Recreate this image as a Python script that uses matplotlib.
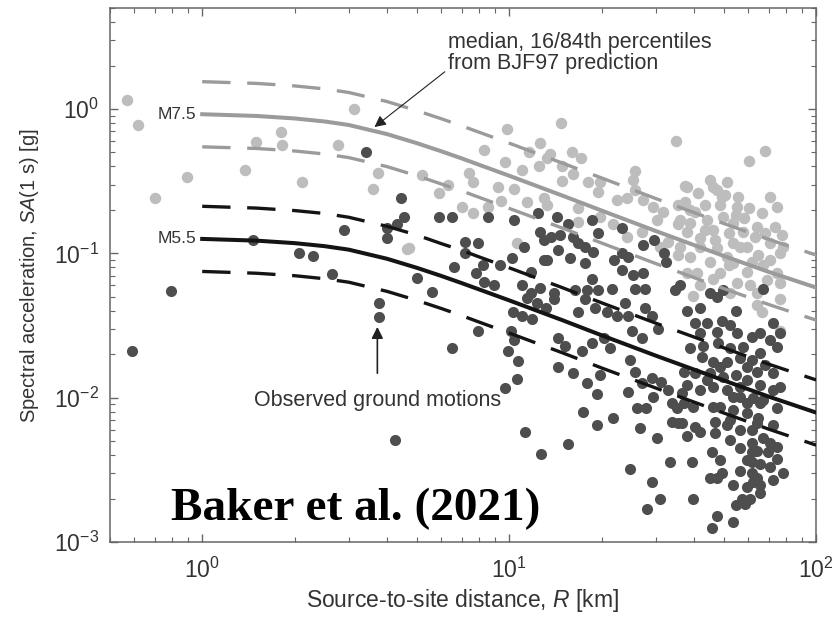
import matplotlib
matplotlib.use("Agg")
import matplotlib.pyplot as plt

plt.rcParams['font.family'] = ['Liberation Sans', 'DejaVu Sans']
plt.rcParams['mathtext.fontset'] = 'custom'
plt.rcParams['mathtext.rm'] = 'Liberation Sans'
plt.rcParams['mathtext.it'] = 'Liberation Sans:italic'

# BJF97 prediction curves
r_pred = [1, 1.5, 2, 2.5, 3, 4, 5, 6, 7, 8, 10, 15, 20, 30, 50, 70, 100]
m75_med = [0.92, 0.895, 0.86, 0.82, 0.775, 0.67, 0.58, 0.51, 0.455, 0.41, 0.345, 0.25, 0.198,
           0.143, 0.096, 0.0745, 0.058]
m75_p84 = [1.546, 1.504, 1.445, 1.378, 1.302, 1.126, 0.974, 0.857, 0.764, 0.689, 0.580, 0.420,
           0.333, 0.240, 0.161, 0.125, 0.0974]
m75_p16 = [0.547, 0.533, 0.512, 0.488, 0.461, 0.399, 0.345, 0.303, 0.271, 0.244, 0.205, 0.149,
           0.118, 0.0851, 0.0571, 0.0443, 0.0345]
m55_med = [0.126, 0.1226, 0.1178, 0.1123, 0.1062, 0.0918, 0.0795, 0.0699, 0.0623, 0.0562, 0.0473,
           0.0343, 0.0271, 0.0196, 0.0132, 0.0102, 0.0079]
m55_p84 = [0.212, 0.206, 0.198, 0.189, 0.178, 0.154, 0.134, 0.117, 0.105, 0.0944, 0.0795, 0.0576,
           0.0455, 0.0329, 0.0222, 0.0171, 0.0133]
m55_p16 = [0.075, 0.0729, 0.0701, 0.0668, 0.0632, 0.0546, 0.0473, 0.0416, 0.0371, 0.0334, 0.0281,
           0.0204, 0.0161, 0.0117, 0.00785, 0.00607, 0.0047]

# observed ground motions, large magnitude (light grey)
big_r = [0.57, 0.62, 0.70, 0.89, 1.38, 1.50, 1.80, 1.82, 2.12, 2.76, 3.13, 3.75, 3.6, 4.66,
         9.8, 12.6, 8.3, 9.7, 11, 12.5, 13.3, 11.6, 7.4, 7.6, 9.2, 10.4, 5.2, 5.9, 6.3,
         9.4, 11.4, 13, 7.0, 7.6, 8.5, 10.6, 4.7,
         14.8, 34.9, 13.6, 16, 17.1, 14.9, 16.1, 14.9, 18, 19.8, 19.4, 25.7, 25.3, 25.7,
         13.3, 16.7, 22.5, 24.2, 27.3, 29.5, 31.6, 35.5, 19.8, 21.8, 24.2, 16.7, 27.1,
         30.2, 35.5, 30.9, 32.8, 35.5,
         68.3, 60.3, 38, 45.2, 51.3, 41.2, 47.4, 55.7, 48.7, 70.6, 74.3, 66.8, 60.3, 37.4,
         40.3, 38.8, 44, 49.7, 53.7, 46, 51.8, 57.9, 63.2, 73.3, 77.5, 70.6, 76.5, 41.9,
         38, 41.9, 47.4, 59.7, 64.8, 38.8, 45.2, 53.7, 67.3, 59.7, 74.3, 48.7, 40.8, 41.9,
         55.1, 76.5, 64.3, 39.7, 52.5, 64.3, 66.8, 76.5, 76.5,
         46, 50.3, 55.1, 64.3, 68.3, 56.6, 51.3, 61.7, 46, 38, 68.9, 53.7, 43.3, 36, 36, 37.4,
         49.4, 43.3, 58.3, 46.8, 54.6, 51.8, 61, 38.8, 70.6, 78]
big_sa = [1.15, 0.77, 0.24, 0.34, 0.38, 0.59, 0.69, 0.56, 0.31, 0.56, 1.0, 0.36, 0.28, 0.107,
          0.73, 0.58, 0.52, 0.43, 0.38, 0.40, 0.46, 0.50, 0.36, 0.31, 0.29, 0.28, 0.35, 0.26, 0.30,
          0.23, 0.227, 0.24, 0.21, 0.19, 0.21, 0.118, 0.109,
          0.80, 0.60, 0.49, 0.50, 0.46, 0.40, 0.355, 0.317, 0.31, 0.31, 0.266, 0.37, 0.32, 0.275,
          0.216, 0.206, 0.234, 0.24, 0.234, 0.21, 0.193, 0.216, 0.18, 0.16, 0.13, 0.165, 0.14,
          0.17, 0.16, 0.11, 0.12, 0.097,
          0.51, 0.436, 0.288, 0.322, 0.31, 0.262, 0.275, 0.246, 0.216, 0.246, 0.21, 0.19, 0.206, 0.227,
          0.193, 0.162, 0.17, 0.178, 0.162, 0.145, 0.138, 0.14, 0.13, 0.152, 0.134, 0.118, 0.10, 0.128,
          0.14, 0.11, 0.109, 0.11, 0.097, 0.094, 0.087, 0.086, 0.083, 0.074, 0.073, 0.073, 0.073, 0.06,
          0.062, 0.062, 0.053, 0.051, 0.053, 0.044, 0.039, 0.029, 0.048,
          0.288, 0.254, 0.21, 0.152, 0.138, 0.11, 0.094, 0.087, 0.067, 0.073, 0.065, 0.118, 0.145,
          0.11, 0.17, 0.292,
          0.246, 0.216, 0.176, 0.123, 0.184, 0.083, 0.060, 0.20, 0.09, 0.11]

# observed ground motions, small magnitude (dark grey)
small_r = [3.42, 4.43, 4.53, 4.3, 4.0, 4.0, 2.9, 1.46, 2.07, 2.3, 2.65, 0.79, 3.78, 3.78, 0.59, 4.26, 6.5,
           5.9, 6.5, 8.5, 10.4, 12.4, 12.6, 13, 7.2, 7.9, 7.2, 11.2, 8.2, 9.3, 10.2, 6.6, 7.8, 8.3,
           8.9, 11.8, 11, 11.8, 12.6, 5.0, 5.6, 13,
           7.9, 10.1, 10.4, 9.9, 10.7, 10.6, 9.7, 11.3, 12.7, 10.3, 11, 11.9, 11.4, 12.3, 13.2,
           14.3, 15.5, 18.6, 23.3, 19.4, 13.7, 14.6, 16.1, 16.7, 14.4, 17.6, 18.7, 15.8, 17.6, 13.3,
           22, 24.4, 27.3, 29.7, 32.0, 32.4, 23.3, 25.3, 27.3, 18.6, 21.6, 25.7, 27.6, 17.9, 19.4,
           16.4, 34.7, 14, 23.3,
           14, 16.7, 17.6, 19.1, 20.8, 22.5, 23.8, 24.4, 27.6, 29.1, 30.5, 25.1, 27.1, 14.4, 15.2,
           17.2, 18.6, 21.3, 14.4, 16.1, 19.8, 17.9, 24.7, 25.7, 27.1, 29.1, 31.3, 19.3, 24.4, 29.3,
           32.8, 33.9, 26.1, 28, 17.4, 21.8, 19.3, 26.6, 30.2, 35.5, 33.9, 15.5, 33.3, 24.7, 29.1,
           30.9, 28.2, 20.4, 35.3,
           38, 41.9, 40.3, 44, 49.4, 52.5, 54.6, 65.8, 72.4, 76.5, 70.6, 74.3, 65.8, 38.8, 42.9, 48,
           52.5, 57.9, 42.5, 46, 51.3, 56.6, 61.7, 68.3, 72.4, 37, 40.3, 45.2, 49.7, 54.6, 59.7, 65.8,
           38, 41.9, 46, 51.3, 56.6, 62.2, 67.3, 74.3, 37, 39.7, 48.7, 53.7, 59.7, 64.8, 36.6, 40.3,
           46.8, 51.3, 56.6, 61.7, 72.4, 38, 41.9, 46.8, 52.5, 61.7, 70.6, 74.3, 45.6, 61.7, 69.4,
           48.7, 39.4, 61.7, 74.3, 61.7, 45.2, 49.4, 77.9, 72.4, 62.2, 53.7, 65.8, 60.9, 57.3, 54.6,
           58.6, 39.7, 47.4, 53.7, 45.6, 49.7, 67.3, 47.4, 36,
           45.1, 47.4, 55.1, 61.7, 41.9, 59.7, 48.7, 64.3, 44, 56.6, 53.7, 46, 65.8, 59.7, 36.6,
           72.4, 76.5, 52.5, 64.3, 67.3, 56.6, 64.3, 59.7, 65.8, 70.6, 56.6, 47.4, 64.3, 59.7, 65.8]
small_sa = [0.50, 0.24, 0.18, 0.16, 0.15, 0.127, 0.145, 0.124, 0.10, 0.096, 0.072, 0.055, 0.045, 0.036,
            0.021, 0.0051, 0.022,
            0.18, 0.18, 0.18, 0.17, 0.19, 0.14, 0.124, 0.12, 0.118, 0.10, 0.11, 0.083, 0.083, 0.093,
            0.08, 0.073, 0.063, 0.06, 0.074, 0.06, 0.053, 0.058, 0.068, 0.054, 0.09,
            0.029, 0.029, 0.025, 0.021, 0.018, 0.0135, 0.0117, 0.0058, 0.0041, 0.039, 0.037, 0.035,
            0.049, 0.045, 0.042,
            0.18, 0.16, 0.17, 0.15, 0.138, 0.13, 0.134, 0.13, 0.118, 0.105, 0.11, 0.102, 0.093, 0.086,
            0.09, 0.09, 0.094, 0.114, 0.124, 0.10, 0.087, 0.077, 0.071, 0.073, 0.067, 0.057, 0.057,
            0.057, 0.056, 0.056, 0.056, 0.056, 0.053, 0.10,
            0.048, 0.039, 0.048, 0.042, 0.039, 0.037, 0.045, 0.037, 0.042, 0.037, 0.030, 0.029, 0.026,
            0.026, 0.023, 0.021, 0.024, 0.022, 0.0163, 0.0148, 0.0145, 0.0127, 0.0183, 0.015, 0.0127,
            0.0137, 0.0128, 0.0107, 0.011, 0.0101, 0.0114, 0.0092, 0.0085, 0.0085, 0.0080, 0.0073,
            0.0065, 0.0062, 0.0053, 0.0067, 0.0068, 0.0048, 0.0036, 0.0032, 0.0026, 0.0020, 0.0017,
            0.026, 0.0085,
            0.04, 0.042, 0.033, 0.033, 0.034, 0.032, 0.04, 0.028, 0.033, 0.028, 0.025, 0.0224, 0.0204,
            0.022, 0.023, 0.024, 0.022, 0.0224, 0.0192, 0.0177, 0.0177, 0.0188, 0.0183, 0.0169, 0.0148,
            0.015, 0.0148, 0.0148, 0.0139, 0.0145, 0.0133, 0.0122, 0.0122, 0.0114, 0.0118, 0.0114,
            0.0101, 0.0100, 0.0097, 0.0085, 0.0092, 0.0086, 0.0086, 0.0082, 0.0078, 0.0073, 0.0067,
            0.0063, 0.0068, 0.0065, 0.0060, 0.0060, 0.0065, 0.0054, 0.0058, 0.0057, 0.0051, 0.0049,
            0.0049, 0.0046, 0.0042, 0.0042, 0.0042, 0.0037, 0.0036, 0.0036, 0.0038, 0.0030, 0.0028,
            0.0030, 0.0030, 0.0027, 0.0026, 0.0025, 0.0022, 0.0020, 0.0020, 0.0018, 0.00184, 0.0020,
            0.00152, 0.00137, 0.00126, 0.056, 0.057, 0.05, 0.06,
            0.053, 0.0285, 0.028, 0.0263, 0.028, 0.0163, 0.0163, 0.0150, 0.0132, 0.0118, 0.0101,
            0.0086, 0.0092, 0.0092, 0.0108, 0.0113, 0.0118, 0.0070, 0.0067, 0.0053, 0.0045, 0.0043,
            0.0037, 0.0035, 0.0033, 0.0031, 0.0028, 0.0028, 0.0024, 0.0025]

fig = plt.figure(figsize=(8.38, 6.19), dpi=100)
ax = fig.add_axes([0.131, 0.124, 0.843, 0.863])

light, dark = '#bdbdbd', '#4e4e4e'
ax.scatter(big_r, big_sa, s=68, color=light, lw=0, zorder=2)
ax.scatter(small_r, small_sa, s=64, color=dark, lw=0, zorder=2.5)

grey_line, black_line = '#9b9b9b', '#141414'
ax.plot(r_pred, m75_med, color=grey_line, lw=2.9, zorder=3)
ax.plot(r_pred, m75_p84, color=grey_line, lw=2.4, dashes=(8.5, 5), zorder=3)
ax.plot(r_pred, m75_p16, color=grey_line, lw=2.4, dashes=(8.5, 5), zorder=3)
ax.plot(r_pred, m55_med, color=black_line, lw=2.9, zorder=3)
ax.plot(r_pred, m55_p84, color=black_line, lw=2.4, dashes=(8.5, 5), zorder=3)
ax.plot(r_pred, m55_p16, color=black_line, lw=2.4, dashes=(8.5, 5), zorder=3)

ax.set_xscale('log')
ax.set_yscale('log')
ax.set_xlim(0.5, 100)
ax.set_ylim(1e-3, 5)

txt = '#333333'
ax.text(0.955, 0.91, 'M7.5', ha='right', va='center', fontsize=12.5, color=txt)
ax.text(0.955, 0.127, 'M5.5', ha='right', va='center', fontsize=12.5, color=txt)

ax.annotate('median, 16/84th percentiles\nfrom BJF97 prediction', xy=(3.64, 0.75),
            xytext=(6.3, 2.45), ha='left', va='center', fontsize=15.5, color=txt,
            linespacing=1.0,
            arrowprops=dict(arrowstyle='-|>', color='#222222', lw=0.8, mutation_scale=17,
                            shrinkA=0, shrinkB=0, relpos=(0, 0.1)))
ax.annotate('Observed ground motions', xy=(3.72, 0.031), xytext=(3.72, 0.0096),
            ha='center', va='center', fontsize=15.5, color=txt,
            arrowprops=dict(arrowstyle='-|>', color='#222222', lw=1.2, mutation_scale=17,
                            shrinkA=10, shrinkB=0))

ax.text(0.086, 0.041, 'Baker et al. (2021)', transform=ax.transAxes, ha='left', va='baseline',
        fontsize=34, fontweight='bold', family='Liberation Serif', color='black')

ax.set_xlabel('Source-to-site distance, $R$ [km]', fontsize=16.5, color=txt, labelpad=3)
ax.set_ylabel('Spectral acceleration, $SA$(1 s) [g]', fontsize=14.5, color=txt, labelpad=9)

spine_c = '#666666'
for sp in ax.spines.values():
    sp.set_color(spine_c)
    sp.set_linewidth(1.1)
ax.tick_params(which='both', direction='in', top=True, right=True, color=spine_c)
ax.tick_params(which='major', length=6, width=1.0, labelsize=16.5, labelcolor=txt)
ax.tick_params(axis='x', which='major', pad=11)
ax.tick_params(axis='y', which='major', pad=8)
ax.tick_params(which='minor', length=3.5, width=0.8)

fig.savefig('out.png', dpi=100)
